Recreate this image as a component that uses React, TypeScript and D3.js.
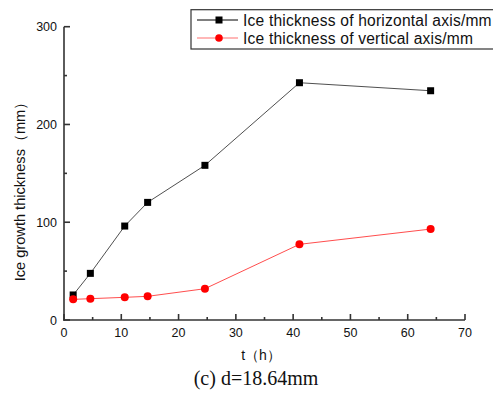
import React from "react";
import * as d3 from "d3";

const times = [1.6, 4.6, 10.6, 14.6, 24.6, 41.1, 64.0];
const horizontal = [25.6, 47.7, 96.1, 120.3, 158.2, 242.7, 234.5];
const vertical = [21.1, 21.8, 23.2, 24.2, 32.0, 77.4, 93.0];
const xTicks = [0, 10, 20, 30, 40, 50, 60, 70];
const yTicks = [0, 100, 200, 300];
const legendLabels = ["Ice thickness of horizontal axis/mm", "Ice thickness of vertical axis/mm"];

const W = 493, H = 395;
const left = 64, right = 465, top = 26.7, bottom = 320;

export default function App() {
  const x = d3.scaleLinear().domain([0, 70]).range([left, right]);
  const y = d3.scaleLinear().domain([0, 300]).range([bottom, top]);
  const line = d3.line<number>().x((_, i) => x(times[i])).y((d) => y(d));
  const font = "'Liberation Sans', Arial, sans-serif";
  const xMinor = d3.range(5, 70, 10);
  const yMinor = d3.range(50, 300, 100);
  return (
    <svg width={W} height={H} style={{ position: "absolute", left: 0, top: 0 }}>
      <rect width={W} height={H} fill="#fff" />
      {/* series lines */}
      <path d={line(horizontal) || ""} fill="none" stroke="#222" strokeWidth={0.8} />
      <path d={line(vertical) || ""} fill="none" stroke="#ff2020" strokeWidth={0.8} />
      {horizontal.map((v, i) => (
        <rect key={"h" + i} x={x(times[i]) - 3.5} y={y(v) - 3.5} width={7} height={7} fill="#000" />
      ))}
      {vertical.map((v, i) => (
        <circle key={"v" + i} cx={x(times[i])} cy={y(v)} r={4} fill="#ff0000" />
      ))}
      {/* axes */}
      <g stroke="#333" strokeWidth={1.6} fill="none">
        <line x1={left} y1={top} x2={left} y2={bottom + 0.8} />
        <line x1={left - 0.8} y1={bottom} x2={right} y2={bottom} />
        {xTicks.map((t) => (
          <line key={"xt" + t} x1={x(t)} x2={x(t)} y1={bottom} y2={bottom - 6} />
        ))}
        {xMinor.map((t) => (
          <line key={"xm" + t} x1={x(t)} x2={x(t)} y1={bottom} y2={bottom - 3} />
        ))}
        {yTicks.map((t) => (
          <line key={"yt" + t} x1={left} x2={left + 6} y1={y(t)} y2={y(t)} />
        ))}
        {yMinor.map((t) => (
          <line key={"ym" + t} x1={left} x2={left + 3} y1={y(t)} y2={y(t)} />
        ))}
      </g>
      <g fontFamily={font} fontSize={12.5} fill="#111">
        {xTicks.map((t) => (
          <text key={"xl" + t} x={x(t)} y={bottom + 17} textAnchor="middle">{t}</text>
        ))}
        {yTicks.map((t) => (
          <text key={"yl" + t} x={left - 7} y={y(t) + 4.5} textAnchor="end">{t}</text>
        ))}
      </g>
      <text x={261} y={360} textAnchor="middle" fontFamily={font} fontSize={14} fill="#111">t（h）</text>
      <text transform={`translate(25,188) rotate(-90)`} textAnchor="middle" fontFamily={font} fontSize={14.6} fill="#111">
        Ice growth thickness（mm）
      </text>
      <text x={256} y={385} textAnchor="middle" fontFamily="'Liberation Serif', 'Times New Roman', serif" fontSize={20} fill="#111">
        (c) d=18.64mm
      </text>
      {/* legend */}
      <rect x={191} y={9.7} width={305} height={39.3} fill="#fff" stroke="#333" strokeWidth={1.2} />
      <line x1={197} x2={238} y1={20} y2={20} stroke="#000" strokeWidth={1} />
      <rect x={219 - 3.5} y={20 - 3.5} width={7} height={7} fill="#000" />
      <line x1={197} x2={238} y1={38} y2={38} stroke="#ff7070" strokeWidth={1.2} />
      <circle cx={219} cy={38} r={3.8} fill="#ff0000" />
      <g fontFamily={font} fontSize={15.6} fill="#111" letterSpacing={0.2}>
        <text x={243} y={25.5}>{legendLabels[0]}</text>
        <text x={243} y={43.5}>{legendLabels[1]}</text>
      </g>
    </svg>
  );
}
